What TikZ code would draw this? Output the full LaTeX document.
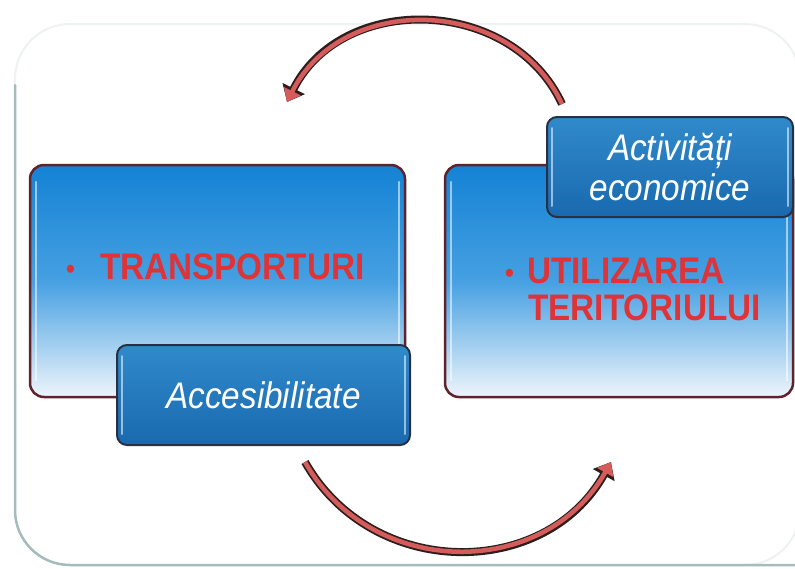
\documentclass[tikz,border=0pt]{standalone}
\usepackage{fontspec}
\setmainfont{Liberation Sans}
\newfontfamily\condsans[FakeStretch=0.9]{Liberation Sans}
\usetikzlibrary{arrows.meta}
\definecolor{panelfaint}{RGB}{238,242,242}
\definecolor{panelline}{RGB}{165,188,188}
\definecolor{bigtop}{RGB}{20,130,212}
\definecolor{bigmid}{RGB}{70,160,226}
\definecolor{bigbot}{RGB}{238,245,251}
\definecolor{bigedge}{RGB}{95,35,45}
\definecolor{smalltop}{RGB}{48,138,202}
\definecolor{smallbot}{RGB}{25,105,175}
\definecolor{smalledge}{RGB}{40,48,66}
\definecolor{txtred}{RGB}{222,52,56}
\definecolor{arcred}{RGB}{214,92,92}
\definecolor{arcdark}{RGB}{45,30,30}
\tikzset{
  bigbox/.style={rectangle, rounded corners=14pt, draw=bigedge, line width=2.5pt,
    top color=bigtop, bottom color=bigbot, middle color=bigmid, inner sep=0pt},
  smallbox/.style={rectangle, rounded corners=10pt, draw=smalledge, line width=2pt,
    top color=smalltop, bottom color=smallbot, inner sep=0pt, align=center,
    text=white, font=\condsans\itshape\fontsize{37}{40}\selectfont},
  redtxt/.style={text=txtred, font=\condsans\bfseries\fontsize{37}{37}\selectfont, align=left, inner sep=0pt},
  gloss/.style={white, opacity=0.55, line width=2pt, line cap=round},
  arcarrow/.style={line width=4.5pt, draw=arcred, -{Triangle[length=12pt,width=18pt]},
    preaction={draw=arcdark, line width=8pt, -{Triangle[length=15pt,width=24pt]}}}
}
\newcommand{\smallbul}{\raisebox{1pt}{\fontsize{28}{28}\selectfont •}}
\begin{document}
\begin{tikzpicture}[x=1pt,y=-1pt]
\useasboundingbox (0,0) rectangle (795,568);
% background panel
\draw[panelfaint, line width=2pt, rounded corners=55pt, fill=white] (15,24) rectangle (800,565);
\draw[panelline, line width=2.5pt, line cap=round, rounded corners=55pt] (15,85) -- (15,565) -- (800,565);
% big boxes
\node[bigbox, minimum width=375pt, minimum height=232pt] (trans) at (217.5,281) {};
\node[bigbox, minimum width=348pt, minimum height=232pt] (util) at (619,281) {};
\draw[gloss] ([shift={(7,18)}]trans.north west) -- ([shift={(7,-18)}]trans.south west);
\draw[gloss] ([shift={(-7,18)}]trans.north east) -- ([shift={(-7,-18)}]trans.south east);
\draw[gloss] ([shift={(7,18)}]util.north west) -- ([shift={(7,-18)}]util.south west);
\draw[gloss] ([shift={(-7,18)}]util.north east) -- ([shift={(-7,-18)}]util.south east);
% texts in big boxes
\node[redtxt, anchor=west] (transtxt) at (66,267) {\smallbul\hspace{25pt}TRANSPORTURI};
\node[redtxt, anchor=west] (utiltxt) at (505,289) {\smallbul\hspace{13pt}UTILIZAREA\\\hspace{23pt}TERITORIULUI};
% small boxes
\node[smallbox, minimum width=293pt, minimum height=100pt] (acc) at (263.5,395) {Accesibilitate};
\node[smallbox, minimum width=246pt, minimum height=100pt] (act) at (670,167) {Activități\\economice};
\draw[gloss] ([shift={(6,12)}]acc.north west) -- ([shift={(6,-12)}]acc.south west);
\draw[gloss] ([shift={(-6,12)}]acc.north east) -- ([shift={(-6,-12)}]acc.south east);
\draw[gloss] ([shift={(6,12)}]act.north west) -- ([shift={(6,-12)}]act.south west);
\draw[gloss] ([shift={(-6,12)}]act.north east) -- ([shift={(-6,-12)}]act.south east);
% arrows
\coordinate (ta) at (562,104);
\coordinate (tb) at (287,102);
\coordinate (ba) at (305,462);
\coordinate (bb) at (611,462);
\draw[arcarrow] (ta) .. controls (512,-4) and (342,-8) .. (tb);
\draw[arcarrow] (ba) .. controls (372,580) and (545,580) .. (bb);
\end{tikzpicture}
\end{document}
